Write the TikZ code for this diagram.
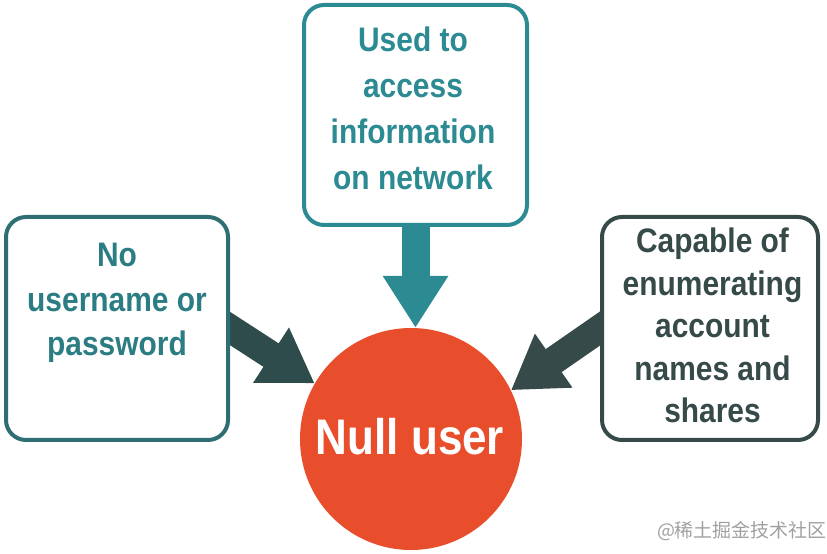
\documentclass[tikz,border=0pt]{standalone}
\usepackage{fontspec}
\setmainfont{Liberation Sans}[FakeStretch=0.88]
\newfontfamily\cjkfont{Noto Sans CJK SC}
\usetikzlibrary{arrows.meta,calc}
\definecolor{tealc}{HTML}{2C8A93}
\definecolor{lborder}{HTML}{2F6E72}
\definecolor{ltext}{HTML}{2B7D83}
\definecolor{larrow}{HTML}{2F4C4C}
\definecolor{rdark}{HTML}{364A49}
\definecolor{nullred}{HTML}{E84E2C}
\definecolor{wmgray}{HTML}{A0A0A0}
\pgfdeclarelayer{bg}
\pgfsetlayers{bg,main}
\tikzset{
  infobox/.style={draw, fill=white, line width=4pt, rounded corners=20pt, inner sep=0pt},
  boxtext/.style={font=\bfseries\fontsize{34}{46}\selectfont, align=center, inner sep=0pt, anchor=north},
  fatarrow/.style={line width=28pt, -{Triangle[length=52pt,width=62pt]}}
}
\begin{document}
\begin{tikzpicture}[x=1pt,y=1pt]
\useasboundingbox (0,0) rectangle (827,554);
% boxes
\node[infobox, draw=lborder, minimum width=222pt, minimum height=223pt] (lbox) at (117,225.5) {};
\node[infobox, draw=tealc, minimum width=223pt, minimum height=220pt] (tbox) at (415.5,439) {};
\node[infobox, draw=rdark, minimum width=216pt, minimum height=223pt] (rbox) at (710,225.5) {};
% circle
\node[circle, fill=nullred, minimum size=222pt, inner sep=0pt] (circ) at (411,115) {};
% texts
\node[boxtext, text=ltext, font=\bfseries\fontsize{34}{44.5}\selectfont] (ltxt) at (117,311) {No\\username or\\password};
\node[boxtext, text=tealc] (ttxt) at (413,527) {Used to\\access\\information\\on network};
\node[boxtext, text=rdark, font=\bfseries\fontsize{34}{42.5}\selectfont] (rtxt) at (712.5,326) {Capable of\\enumerating\\account\\names and\\shares};
\node[font=\bfseries\fontsize{50}{60}\selectfont, text=white, anchor=base, inner sep=0pt] (ctxt) at (410,99) {Null user};
% arrows
\begin{pgfonlayer}{bg}
\draw[fatarrow, draw=tealc, fill=tealc] ($(tbox.south)+(0,20)$) -- (tbox.south |- circ.north);
\draw[fatarrow, draw=larrow, fill=larrow] ($(circ.150)!1.4!(lbox.east)$) -- (circ.150);
\draw[fatarrow, draw=rdark, fill=rdark] ($(circ.26)!1.4!(rbox.west)$) -- (circ.26);
\end{pgfonlayer}
% watermark
\node[font=\cjkfont\fontsize{19}{22}\selectfont, text=wmgray, inner sep=0pt] (wm) at (742,23) {@稀土掘金技术社区};
\end{tikzpicture}
\end{document}
